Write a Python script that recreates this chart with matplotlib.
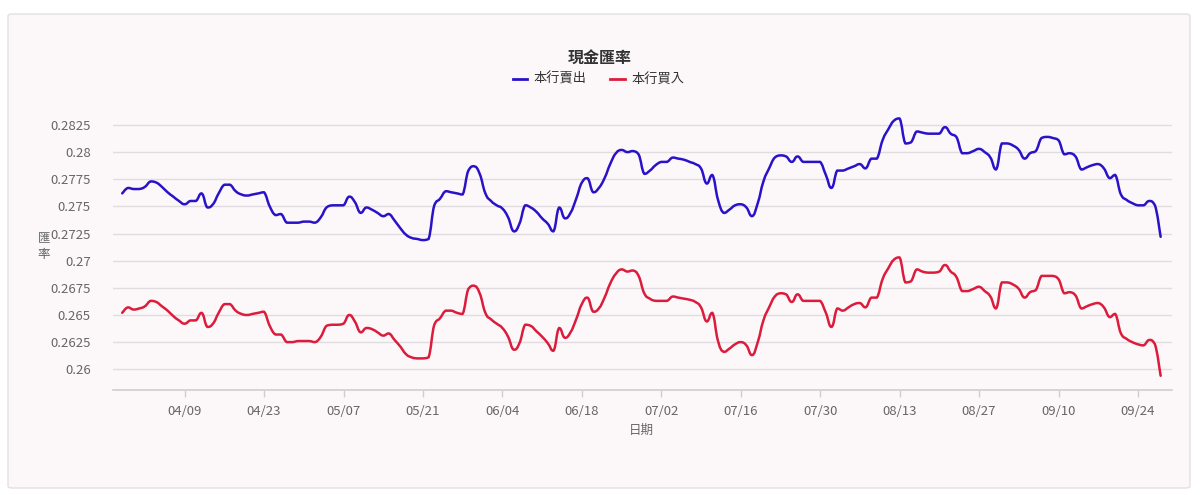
import numpy as np
import pandas as pd
import matplotlib
matplotlib.use("Agg")
import matplotlib.pyplot as plt
import matplotlib.dates as mdates
from matplotlib.patches import FancyBboxPatch, PathPatch
from matplotlib.path import Path
from matplotlib.lines import Line2D

plt.rcParams['font.family'] = ['Noto Sans CJK TC', 'DejaVu Sans']

# ---------------- data ----------------
start_date = "2024-03-29"
sell_rates = [  # 本行賣出
    0.2762, 0.2767, 0.2766, 0.2766, 0.2768, 0.2773, 0.2772, 0.2768, 0.2763, 0.2759,
    0.2755, 0.2752, 0.2755, 0.2755, 0.2762, 0.2749, 0.2752, 0.2762, 0.2770, 0.2770,
    0.2764, 0.2761, 0.2760, 0.2761, 0.2762, 0.2763, 0.2750, 0.2742, 0.2743, 0.2735,
    0.2735, 0.2735, 0.2736, 0.2736, 0.2735, 0.2740, 0.2749, 0.2751, 0.2751, 0.2751,
    0.2759, 0.2754, 0.2744, 0.2749, 0.2747, 0.2744, 0.2741, 0.2743, 0.2737, 0.2730,
    0.2724, 0.2721, 0.2720, 0.2719, 0.2720, 0.2751, 0.2757, 0.2764, 0.2763, 0.2762,
    0.2761, 0.2783, 0.2787, 0.2780, 0.2762, 0.2755, 0.2751, 0.2748, 0.2740, 0.2727,
    0.2734, 0.2751, 0.2749, 0.2745, 0.2739, 0.2734, 0.2727, 0.2749, 0.2739, 0.2744,
    0.2757, 0.2772, 0.2776, 0.2763, 0.2767, 0.2776, 0.2789, 0.2799, 0.2802, 0.2800,
    0.2801, 0.2798, 0.2780, 0.2783, 0.2788, 0.2791, 0.2791, 0.2795, 0.2794, 0.2793,
    0.2791, 0.2789, 0.2785, 0.2771, 0.2779, 0.2756, 0.2744, 0.2747, 0.2751, 0.2752,
    0.2749, 0.2741, 0.2753, 0.2773, 0.2785, 0.2795, 0.2797, 0.2796, 0.2791, 0.2796,
    0.2791, 0.2791, 0.2791, 0.2791, 0.2779, 0.2767, 0.2783, 0.2783, 0.2785, 0.2787,
    0.2789, 0.2785, 0.2794, 0.2794, 0.2811, 0.2821, 0.2829, 0.2831, 0.2808, 0.2809,
    0.2819, 0.2818, 0.2817, 0.2817, 0.2817, 0.2823, 0.2817, 0.2814, 0.2799, 0.2799,
    0.2801, 0.2803, 0.2800, 0.2795, 0.2784, 0.2808, 0.2808, 0.2806, 0.2802, 0.2794,
    0.2799, 0.2801, 0.2813, 0.2814, 0.2813, 0.2811, 0.2798, 0.2799, 0.2796, 0.2784,
    0.2786, 0.2788, 0.2789, 0.2785, 0.2776, 0.2779, 0.2761, 0.2756, 0.2753, 0.2751,
    0.2751, 0.2755, 0.2751, 0.2722,
]
buy_rates = [  # 本行買入
    0.2652, 0.2657, 0.2655, 0.2656, 0.2658, 0.2663, 0.2662, 0.2658, 0.2654, 0.2649,
    0.2645, 0.2642, 0.2645, 0.2645, 0.2652, 0.2639, 0.2642, 0.2652, 0.2660, 0.2660,
    0.2654, 0.2651, 0.2650, 0.2651, 0.2652, 0.2653, 0.2640, 0.2632, 0.2632, 0.2625,
    0.2625, 0.2626, 0.2626, 0.2626, 0.2625, 0.2630, 0.2640, 0.2641, 0.2641, 0.2642,
    0.2650, 0.2644, 0.2634, 0.2638, 0.2637, 0.2634, 0.2631, 0.2633, 0.2627, 0.2621,
    0.2614, 0.2611, 0.2610, 0.2610, 0.2611, 0.2641, 0.2647, 0.2654, 0.2654, 0.2652,
    0.2651, 0.2674, 0.2677, 0.2670, 0.2652, 0.2646, 0.2642, 0.2638, 0.2630, 0.2618,
    0.2624, 0.2641, 0.2640, 0.2635, 0.2630, 0.2624, 0.2617, 0.2638, 0.2629, 0.2634,
    0.2646, 0.2660, 0.2666, 0.2653, 0.2656, 0.2666, 0.2679, 0.2688, 0.2692, 0.2690,
    0.2691, 0.2686, 0.2670, 0.2665, 0.2663, 0.2663, 0.2663, 0.2667, 0.2666, 0.2665,
    0.2664, 0.2662, 0.2657, 0.2644, 0.2652, 0.2626, 0.2616, 0.2619, 0.2623, 0.2625,
    0.2622, 0.2613, 0.2625, 0.2645, 0.2657, 0.2667, 0.2670, 0.2669, 0.2662, 0.2669,
    0.2663, 0.2663, 0.2663, 0.2663, 0.2652, 0.2639, 0.2656, 0.2654, 0.2657, 0.2660,
    0.2661, 0.2657, 0.2666, 0.2666, 0.2683, 0.2693, 0.2701, 0.2703, 0.2680, 0.2681,
    0.2692, 0.2690, 0.2689, 0.2689, 0.2690, 0.2696, 0.2690, 0.2685, 0.2672, 0.2672,
    0.2674, 0.2676, 0.2672, 0.2667, 0.2656, 0.2680, 0.2680, 0.2678, 0.2674, 0.2666,
    0.2671, 0.2673, 0.2686, 0.2686, 0.2686, 0.2683, 0.2670, 0.2671, 0.2668, 0.2656,
    0.2658, 0.2660, 0.2661, 0.2657, 0.2648, 0.2651, 0.2633, 0.2628, 0.2625, 0.2623,
    0.2622, 0.2627, 0.2623, 0.2594,
]
tick_labels = ["04/09", "04/23", "05/07", "05/21", "06/04", "06/18", "07/02",
               "07/16", "07/30", "08/13", "08/27", "09/10", "09/24"]
y_ticks = [0.26, 0.2625, 0.265, 0.2675, 0.27, 0.2725, 0.275, 0.2775, 0.28, 0.2825]
y_tick_labels = ["0.26", "0.2625", "0.265", "0.2675", "0.27", "0.2725",
                 "0.275", "0.2775", "0.28", "0.2825"]
title = "現金匯率"
series_names = ["本行賣出", "本行買入"]

# ---------------- figure ----------------
W, H = 1200, 495
fig = plt.figure(figsize=(W / 100, H / 100), dpi=100)
fig.patch.set_facecolor("white")
bg = "#fcf8f9"
card = FancyBboxPatch((8 / W, 1 - 488 / H), (1190 - 8) / W, (488 - 14) / H,
                      boxstyle="round,pad=0,rounding_size=0.004",
                      transform=fig.transFigure, facecolor=bg,
                      edgecolor="#e4e0e2", linewidth=1.0, zorder=-10)
fig.patches.append(card)

ax = fig.add_axes([113 / W, 1 - 390 / H, (1172 - 113) / W, (390 - 110) / H])
ax.set_facecolor("none")
ax.set_zorder(5)

dates = pd.date_range(start_date, periods=len(sell_rates), freq="D")
xnum = mdates.date2num(dates.to_pydatetime())
blue = "#2a12c8"
red = "#dc1c3c"


def smooth_path(x, y, k=0.25):
    """Cubic Bezier path through every data point, without overshoot."""
    x = np.asarray(x, float)
    y = np.asarray(y, float)
    n = len(x)
    verts = [(x[0], y[0])]
    codes = [Path.MOVETO]
    for i in range(n - 1):
        xp, yp = (x[i - 1], y[i - 1]) if i > 0 else (x[i], y[i])
        xn2, yn2 = (x[i + 2], y[i + 2]) if i + 2 < n else (x[i + 1], y[i + 1])
        lo, hi = min(y[i], y[i + 1]), max(y[i], y[i + 1])
        c1y = min(max(y[i] + (y[i + 1] - yp) * k, lo), hi)
        c2y = min(max(y[i + 1] - (yn2 - y[i]) * k, lo), hi)
        c1 = (x[i] + (x[i + 1] - xp) * k, c1y)
        c2 = (x[i + 1] - (xn2 - x[i]) * k, c2y)
        verts += [c1, c2, (x[i + 1], y[i + 1])]
        codes += [Path.CURVE4] * 3
    return Path(verts, codes)


for vals, col in [(sell_rates, blue), (buy_rates, red)]:
    ax.add_patch(PathPatch(smooth_path(xnum, vals), facecolor="none", edgecolor=col,
                           lw=1.8, joinstyle="round", capstyle="round", zorder=3))

d0 = pd.Timestamp(start_date)
ax.set_xlim(mdates.date2num(d0 - pd.Timedelta(days=1.62)),
            mdates.date2num(d0 + pd.Timedelta(days=185.0)))
ax.set_ylim(0.25809, 0.28388)

tick_pos = [mdates.date2num(pd.Timestamp("2024-" + t.replace("/", "-"))) for t in tick_labels]
ax.set_xticks(tick_pos)
ax.set_xticklabels(tick_labels)
ax.set_yticks(y_ticks)
ax.set_yticklabels(y_tick_labels)

ax.grid(axis="y", color="#e0dcdf", lw=1.0)
ax.set_axisbelow(True)
for s in ["top", "right", "left"]:
    ax.spines[s].set_visible(False)
ax.spines["bottom"].set_color("#d0ccd0")
ax.spines["bottom"].set_linewidth(1.2)
ax.tick_params(axis="x", colors="#d0ccd0", length=5, width=1, labelcolor="#666666",
               labelsize=9.5, pad=6)
ax.tick_params(axis="y", length=0, labelcolor="#666666", labelsize=9.5, pad=16)

fig.text(600 / W, 1 - 58 / H, title, ha="center", va="center",
         fontsize=11.5, color="#333333", fontweight="bold")
# legend
ly = 1 - 79 / H
fig.add_artist(Line2D([513 / W, 527 / W], [ly, ly], color=blue, lw=2, transform=fig.transFigure))
fig.text(533 / W, ly, series_names[0], ha="left", va="center", fontsize=9.5, color="#333333")
fig.add_artist(Line2D([610 / W, 625 / W], [ly, ly], color=red, lw=2, transform=fig.transFigure))
fig.text(631 / W, ly, series_names[1], ha="left", va="center", fontsize=9.5, color="#333333")

fig.text(44 / W, 1 - 246 / H, "匯\n率", ha="center", va="center", fontsize=9,
         color="#666666", linespacing=1.4)
fig.text(641 / W, 1 - 430 / H, "日期", ha="center", va="center", fontsize=9,
         color="#666666")

fig.savefig("out.png", dpi=100, facecolor=fig.get_facecolor())
